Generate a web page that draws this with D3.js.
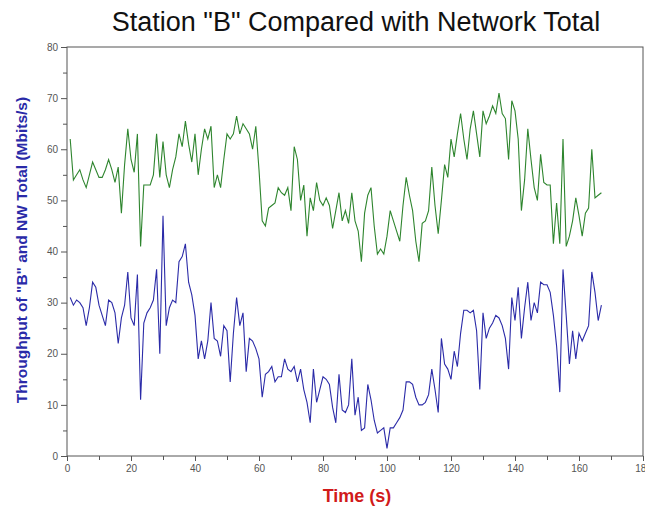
<!DOCTYPE html>
<meta charset="utf-8">
<script src="https://d3js.org/d3.v7.min.js"></script>
<style>
  body { margin: 0; background: #fff; }
  text { font-family: "Liberation Sans", Arial, sans-serif; }
</style>
<svg id="chart" width="645" height="506"></svg>
<script>
// time in seconds, one sample a second
var times = d3.range(1, 168);

// network total (green)
var nwTotal = [62, 54, 55, 56, 54, 52.5, 55, 57.5, 56, 54.5,
  54.5, 56, 58, 56, 53.5, 56.5, 47.5, 57, 64, 58,
  55.5, 63, 41, 53, 53, 53, 55, 63, 54.5, 61.5,
  55, 52.5, 56, 58.5, 63, 60.5, 65.5, 61, 57.5, 63,
  55, 60, 64, 62, 64.5, 52.5, 55, 52.5, 58, 63,
  62, 63, 66.5, 63, 65, 64, 63, 60, 64.5, 56,
  46, 45, 48.5, 49, 49.5, 52.5, 51.5, 51, 52.5, 48,
  60.5, 58, 50, 53, 43, 50.5, 48, 53.5, 50, 49,
  50.5, 49, 44.5, 48, 51.5, 46, 48, 45.5, 51.5, 46,
  44, 38, 47.5, 51, 52.5, 45, 39.5, 40.5, 39.5, 43,
  48, 46, 44, 42, 49, 54.5, 51, 48, 42, 38,
  45.5, 46, 48, 56.5, 49, 43.5, 50, 57, 54.5, 62,
  58.5, 63, 67, 62, 58, 64, 67.5, 63, 58.5, 67.5,
  65, 66.5, 68.5, 67, 71, 67, 66, 58, 69.5, 67.5,
  62, 48, 54, 64, 58, 52.5, 50, 59, 53.5, 53,
  53, 41.5, 49.5, 41.5, 62, 41, 43, 46, 50.5, 47,
  43, 47.5, 48.5, 60, 50.5, 51, 51.5];

// station B (blue)
var stationB = [31, 29.5, 30.5, 30, 29, 25.5, 29, 34, 33, 29.5,
  27.5, 25.5, 30.5, 30, 28, 22, 27, 29.5, 36, 27,
  25.5, 35.5, 11, 26, 28, 29, 30.5, 36.5, 20, 47,
  25.5, 29, 30.5, 30, 38, 39, 41.5, 34, 31.5, 27.5,
  19, 22.5, 19, 22.5, 30, 23, 22.5, 19.5, 25.5, 24.5,
  14.5, 24, 31, 25.5, 28, 16.5, 23, 22.5, 21, 19,
  11.5, 16, 16.5, 17.5, 14.5, 15.5, 15.5, 19, 17, 16.5,
  17.5, 14.5, 17, 13, 10.5, 6.5, 17, 10.5, 13, 15.5,
  15, 14, 9.5, 6.5, 16, 9, 8.5, 10, 19, 8,
  11.5, 5, 5.5, 14, 11, 7, 4.5, 5, 5.5, 1.5,
  5.5, 5.5, 6.5, 7.5, 9, 14.5, 14.5, 14, 11.5, 10,
  10, 10.5, 12, 17, 13, 8.5, 23, 18, 17, 15,
  20.5, 17.5, 24, 28.5, 28.5, 28, 28.5, 24.5, 13, 28,
  23, 25, 26, 27.5, 27, 25.5, 23, 17, 31, 26.5,
  33, 23, 29, 34, 26.5, 30, 28, 34, 33.5, 33.5,
  32, 27.5, 21.5, 12.5, 36.5, 27.5, 18, 24.5, 19, 24,
  22.5, 24, 25.5, 36, 32, 26.5, 29.5];

var xTicks = d3.range(0, 181, 20);
var yTicks = d3.range(0, 81, 10);

var svg = d3.select("#chart");
var margin = { left: 67, right: 2, top: 47, bottom: 50 };
var width = 645 - margin.left - margin.right,
    height = 506 - margin.top - margin.bottom;

var x = d3.scaleLinear().domain([0, 180]).range([0, width]);
var y = d3.scaleLinear().domain([0, 80]).range([height, 0]);

var g = svg.append("g").attr("transform", "translate(" + margin.left + "," + margin.top + ")");

// frame
g.append("rect")
    .attr("width", width).attr("height", height)
    .attr("fill", "none").attr("stroke", "#555").attr("stroke-width", 1);

// minor ticks
g.append("g")
    .attr("transform", "translate(0," + height + ")")
    .call(d3.axisBottom(x).tickValues(d3.range(10, 180, 20)).tickSize(4).tickFormat(""))
    .call(a => a.select(".domain").remove())
    .selectAll("line").attr("stroke", "#555");
g.append("g")
    .call(d3.axisLeft(y).tickValues(d3.range(5, 80, 10)).tickSize(4).tickFormat(""))
    .call(a => a.select(".domain").remove())
    .selectAll("line").attr("stroke", "#555");

// major ticks + labels
var xAxis = g.append("g")
    .attr("transform", "translate(0," + height + ")")
    .call(d3.axisBottom(x).tickValues(xTicks).tickSize(5).tickPadding(4))
    .call(a => a.select(".domain").remove());
xAxis.selectAll("line").attr("stroke", "#555");
xAxis.selectAll("text").attr("fill", "#555").style("font-size", "10px")
    .style("font-family", "Liberation Sans, Arial, sans-serif");

var yAxis = g.append("g")
    .call(d3.axisLeft(y).tickValues(yTicks).tickSize(6).tickPadding(3))
    .call(a => a.select(".domain").remove());
yAxis.selectAll("line").attr("stroke", "#555");
yAxis.selectAll("text").attr("fill", "#555").style("font-size", "10px")
    .style("font-family", "Liberation Sans, Arial, sans-serif");

// lines
var line = d3.line().x((d, i) => x(times[i])).y(d => y(d));

g.append("path").datum(nwTotal)
    .attr("d", line).attr("fill", "none")
    .attr("stroke", "#2e852e").attr("stroke-width", 1.1);

g.append("path").datum(stationB)
    .attr("d", line).attr("fill", "none")
    .attr("stroke", "#2b2ba8").attr("stroke-width", 1.1);

// title and axis labels
svg.append("text")
    .attr("x", 356).attr("y", 31)
    .attr("text-anchor", "middle")
    .style("font-size", "27px").attr("fill", "#111")
    .text('Station "B" Compared with Network Total');

svg.append("text")
    .attr("x", 357).attr("y", 502)
    .attr("text-anchor", "middle")
    .style("font-size", "18px").style("font-weight", "bold").attr("fill", "#d11a1a")
    .text("Time (s)");

svg.append("text")
    .attr("transform", "translate(27,250) rotate(-90)")
    .attr("text-anchor", "middle")
    .style("font-size", "15.5px").style("font-weight", "bold").attr("fill", "#2a2aa8")
    .text('Throughput of "B" and NW Total (Mbits/s)');
</script>
